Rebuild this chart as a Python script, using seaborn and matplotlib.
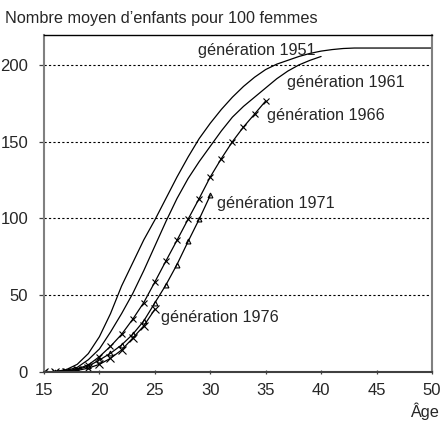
import numpy as np
import pandas as pd
import seaborn as sns
import matplotlib.pyplot as plt

# cumulative fertility (children per 100 women) by age, per generation
ages_1951 = list(range(15, 51))
gen_1951 = [0, 0.3, 1.5, 5, 12, 23, 38, 56, 71, 86, 99, 113, 127, 140, 152, 162, 171,
            179, 186, 192, 197, 200.5, 203, 205.5, 207.5, 209, 210, 210.7, 211, 211,
            211, 211, 211, 211, 211, 211]
ages_1961 = list(range(15, 41))
gen_1961 = [0, 0.2, 1, 3, 8, 15, 26, 38, 51, 66, 82, 98, 113, 126, 137, 147, 157, 166,
            173, 179, 185, 191, 196, 200, 203, 205.5]
ages_1966 = list(range(15, 36))
gen_1966 = [0, 0.2, 0.7, 2, 4.6, 10, 16.7, 24.5, 34.3, 45.2, 58.6, 72.3, 85.8, 99.5,
            113, 127, 139, 150, 159.6, 168, 176.5]
ages_1971 = list(range(15, 31))
gen_1971 = [0, 0.1, 0.5, 1.5, 3.8, 7.8, 12.2, 17.6, 24.5, 33.2, 45, 56.7, 70, 85, 99.5, 115]
ages_1976 = list(range(15, 26))
gen_1976 = [0, 0.1, 0.3, 1, 2.5, 5, 8.9, 14.3, 22, 30, 40.8]

series = [
    ("génération 1951", ages_1951, gen_1951),
    ("génération 1961", ages_1961, gen_1961),
    ("génération 1966", ages_1966, gen_1966),
    ("génération 1971", ages_1971, gen_1971),
    ("génération 1976", ages_1976, gen_1976),
]
markers = {"génération 1951": None, "génération 1961": None,
           "génération 1966": "x", "génération 1971": "^", "génération 1976": "x"}
msizes = {"génération 1966": 4, "génération 1971": 3.5, "génération 1976": 6}
label_pos = {"génération 1951": (28.9, 206.5), "génération 1961": (36.9, 185.9),
             "génération 1966": (35.1, 164.2), "génération 1971": (30.6, 107),
             "génération 1976": (25.6, 32.8)}

sns.set_style("white")
plt.rcParams['font.family'] = ['Liberation Sans', 'DejaVu Sans']

fig = plt.figure(figsize=(4.43, 4.21), dpi=100)
ax = fig.add_axes([0.0993, 0.1164, 0.8757, 0.8005])

for ylev in [50, 100, 150, 200]:
    ax.axhline(ylev, color='black', lw=0.8, ls=(0, (2, 2)), zorder=1)

for name, x, y in series:
    df = pd.DataFrame({'age': x, 'val': y})
    m = markers[name]
    if m is None:
        sns.lineplot(data=df, x='age', y='val', ax=ax, color='black', lw=0.9)
    elif m == "^":
        sns.lineplot(data=df, x='age', y='val', ax=ax, color='black', lw=0.9,
                     marker=m, markersize=msizes[name], markerfacecolor='none',
                     markeredgecolor='black', markeredgewidth=0.8)
    else:
        sns.lineplot(data=df, x='age', y='val', ax=ax, color='black', lw=0.9,
                     marker=m, markersize=msizes[name], markeredgecolor='black',
                     markeredgewidth=0.8)
    tx, ty = label_pos[name]
    ax.text(tx, ty, name, fontsize=11.7, ha='left', va='baseline')

ax.set_xlim(15, 50)
ax.set_ylim(0, 219.5)
ax.set_xticks([15, 20, 25, 30, 35, 40, 45, 50])
ax.set_yticks([0, 50, 100, 150, 200])
ax.set_xlabel('')
ax.set_ylabel('')
ax.tick_params(axis='both', labelsize=12, length=3.5, width=0.9, color='#404040')
ax.tick_params(axis='x', direction='inout', pad=6, bottom=True)
ax.tick_params(axis='y', direction='out', pad=8, left=True)

for s in ['top', 'bottom', 'left', 'right']:
    ax.spines[s].set_visible(True)
    ax.spines[s].set_zorder(5)
ax.spines['top'].set_color('black')
ax.spines['top'].set_linewidth(1.0)
for s in ['left', 'right']:
    ax.spines[s].set_color('#808080')
    ax.spines[s].set_linewidth(1.5)
ax.spines['bottom'].set_color('#404040')
ax.spines['bottom'].set_linewidth(1.5)

fig.text(0.012, 0.957, "Nombre moyen d’enfants pour 100 femmes", fontsize=11.7,
         ha='left', va='center')
fig.text(0.99, 0.022, "Âge", fontsize=11.7, ha='right', va='center')

fig.savefig('out.png', dpi=100)
